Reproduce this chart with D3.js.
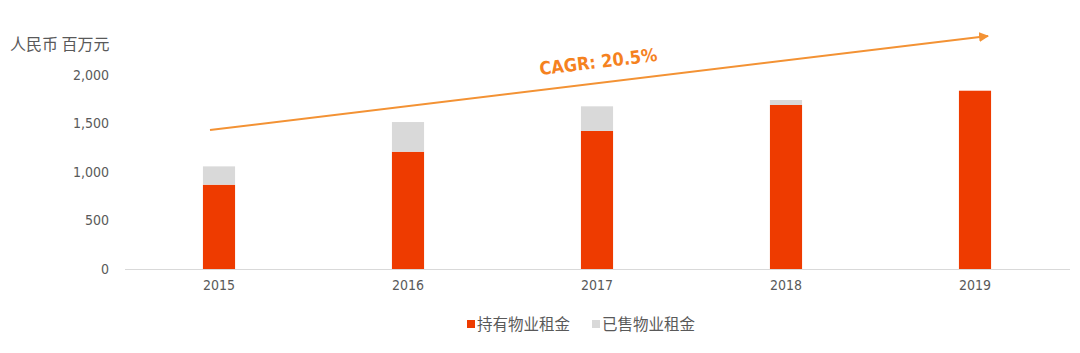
<!DOCTYPE html>
<html><head><meta charset="utf-8">
<script src="https://cdn.jsdelivr.net/npm/d3@7"></script>
<style>body{margin:0;background:#fff}svg{display:block}</style>
</head><body>
<svg id="c" width="1080" height="353"></svg>
<script>
const years = ["2015","2016","2017","2018","2019"];
const heldRent = [869, 1209, 1423, 1691, 1838];
const soldRent = [189, 306, 254, 51, 0];
const yTicks = [0, 500, 1000, 1500, 2000];
const seriesNames = ["持有物业租金", "已售物业租金"];
const cagrLabel = "CAGR: 20.5%";

const colors = ["#EE3B00", "#D9D9D9"];
const svg = d3.select("#c");
const x = d3.scaleBand().domain(years).range([124.5, 1069.5]).paddingInner(0.83).paddingOuter(0.415);
const y = d3.scaleLinear().domain([0, 2000]).range([269, 75]);
const tickFont = "'DejaVu Sans',sans-serif";

const data = years.map((yr,i)=>({year:yr, held:heldRent[i], sold:soldRent[i]}));
const stack = d3.stack().keys(["held","sold"])(data);

svg.append("g").selectAll("g").data(stack).join("g")
  .attr("fill",(d,i)=>colors[i])
  .selectAll("rect").data(d=>d).join("rect")
  .attr("x",d=>x(d.data.year)).attr("width",x.bandwidth())
  .attr("y",d=>y(d[1])).attr("height",d=>y(d[0])-y(d[1]));

const ya = svg.append("g").attr("transform","translate(110,0)")
  .call(d3.axisLeft(y).tickValues(yTicks).tickSize(0).tickFormat(d3.format(",")));
ya.select(".domain").remove();
ya.selectAll("text").attr("fill","#595959").style("font-family",tickFont).style("font-stretch","condensed").style("font-size","14px").attr("x",-1);

const xa = svg.append("g").attr("transform","translate(0,269)")
  .call(d3.axisBottom(x).tickSize(0));
xa.select(".domain").attr("stroke","#D9D9D9").attr("stroke-width",1.2);
xa.selectAll("text").attr("fill","#595959").style("font-family",tickFont).style("font-stretch","condensed").style("font-size","14px").attr("dy","1.25em");

svg.append("text").attr("x",10).attr("y",50).text("人民币 百万元")
  .attr("fill","#595959").style("font-family","'Noto Sans CJK SC',sans-serif").style("font-size","16px");

const orange = "#F39234";
svg.append("defs").append("marker").attr("id","ah").attr("viewBox","0 0 10 10")
  .attr("refX",9).attr("refY",5).attr("markerWidth",5).attr("markerHeight",5).attr("orient","auto")
  .append("path").attr("d","M0,0L10,5L0,10z").attr("fill",orange);
const x0 = x("2015")+x.bandwidth()/2 - 9, x1 = x("2019")+x.bandwidth()/2 + 13;
svg.append("line").attr("x1",x0).attr("y1",130).attr("x2",x1).attr("y2",36)
  .attr("stroke",orange).attr("stroke-width",2).attr("marker-end","url(#ah)");
const ang = Math.atan2(36-130, x1-x0)*180/Math.PI;
svg.append("text").attr("transform",`translate(599,68) rotate(${ang})`)
  .attr("text-anchor","middle").text(cagrLabel)
  .attr("fill","#F5821F").style("font-family",tickFont).style("font-stretch","condensed").style("font-weight","bold").style("font-size","18px");

const lg = svg.append("g");
const lx = [467, 592];
seriesNames.forEach((n,i)=>{
  lg.append("rect").attr("x",lx[i]).attr("y",320).attr("width",8).attr("height",8).attr("fill",colors[i]);
  lg.append("text").attr("x",lx[i]+10).attr("y",330).text(n)
    .attr("fill","#595959").style("font-family","'Noto Sans CJK SC',sans-serif").style("font-size","15.5px");
});
</script>
</body></html>
